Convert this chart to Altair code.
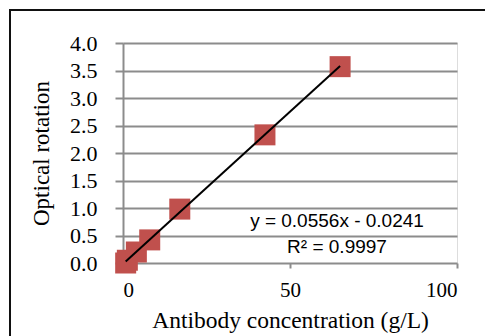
import altair as alt
import pandas as pd

conc = [0.8, 1.3, 4.0, 8.0, 17.0, 42.5, 65.0]
rotation = [0.0, 0.05, 0.2, 0.42, 0.98, 2.33, 3.57]
x_ticks = [0, 50, 100]
y_ticks = [0.0, 0.5, 1.0, 1.5, 2.0, 2.5, 3.0, 3.5, 4.0]
eq_text = "y = 0.0556x - 0.0241"
r2_text = "R\u00b2 = 0.9997"

df = pd.DataFrame({"conc": conc, "rot": rotation})

GRID = "#8c8c8c"
SERIF = "Liberation Serif"

xscale = alt.Scale(domain=[0, 100], nice=False)
yscale = alt.Scale(domain=[0, 4], nice=False)

xaxis = alt.Axis(values=x_ticks, format="d", title="Antibody concentration (g/L)",
                 grid=False, domain=False, tickColor=GRID, tickWidth=2, tickSize=5,
                 labelFont=SERIF, labelFontSize=21, labelColor="#000000", labelPadding=11,
                 labelOverlap=False,
                 titleFont=SERIF, titleFontSize=23.5, titleFontWeight="normal",
                 titleColor="#000000", titlePadding=8)
yaxis = alt.Axis(values=y_ticks, format=".1f", title="Optical rotation",
                 grid=True, gridColor=GRID, gridWidth=2, gridOpacity=1,
                 domain=True, domainColor=GRID, domainWidth=2,
                 tickColor=GRID, tickWidth=2, tickSize=8,
                 labelFont=SERIF, labelFontSize=22, labelColor="#000000", labelPadding=18,
                 labelOverlap=False,
                 titleFont=SERIF, titleFontSize=23, titleFontWeight="normal",
                 titleColor="#000000", titlePadding=16)

base = alt.Chart(df)

points = base.mark_point(shape="square", filled=True, size=441, opacity=1,
                         color="#c0504d").encode(
    x=alt.X("conc:Q", scale=xscale, axis=xaxis),
    y=alt.Y("rot:Q", scale=yscale, axis=yaxis),
)

trend = base.transform_regression("conc", "rot").mark_line(
    color="#000000", strokeWidth=2).encode(
    x=alt.X("conc:Q", scale=xscale, axis=xaxis),
    y=alt.Y("rot:Q", scale=yscale, axis=yaxis),
)

one = alt.Chart(pd.DataFrame({"a": [0]}))

eq = one.mark_text(font="Liberation Sans", fontSize=19, color="#000000",
                   align="center", baseline="middle").encode(
    x=alt.value(214), y=alt.value(178), text=alt.value(eq_text))
r2 = one.mark_text(font="Liberation Sans", fontSize=19, color="#000000",
                   align="center", baseline="middle").encode(
    x=alt.value(214), y=alt.value(204), text=alt.value(r2_text))

border = one.mark_rect(fill=None, stroke="#111111", strokeWidth=2).encode(
    x=alt.value(-113), y=alt.value(-33), x2=alt.value(600), y2=alt.value(600))

chart = alt.layer(border, points, trend, eq, r2).properties(
    width=334, height=220,
    autosize=alt.AutoSizeParams(type="none"),
    padding={"left": 115, "top": 35, "right": 28, "bottom": 73},
).configure_view(stroke=None).configure(background="#ffffff")

chart.save("out.html", embed_options={"renderer": "svg", "actions": False})
